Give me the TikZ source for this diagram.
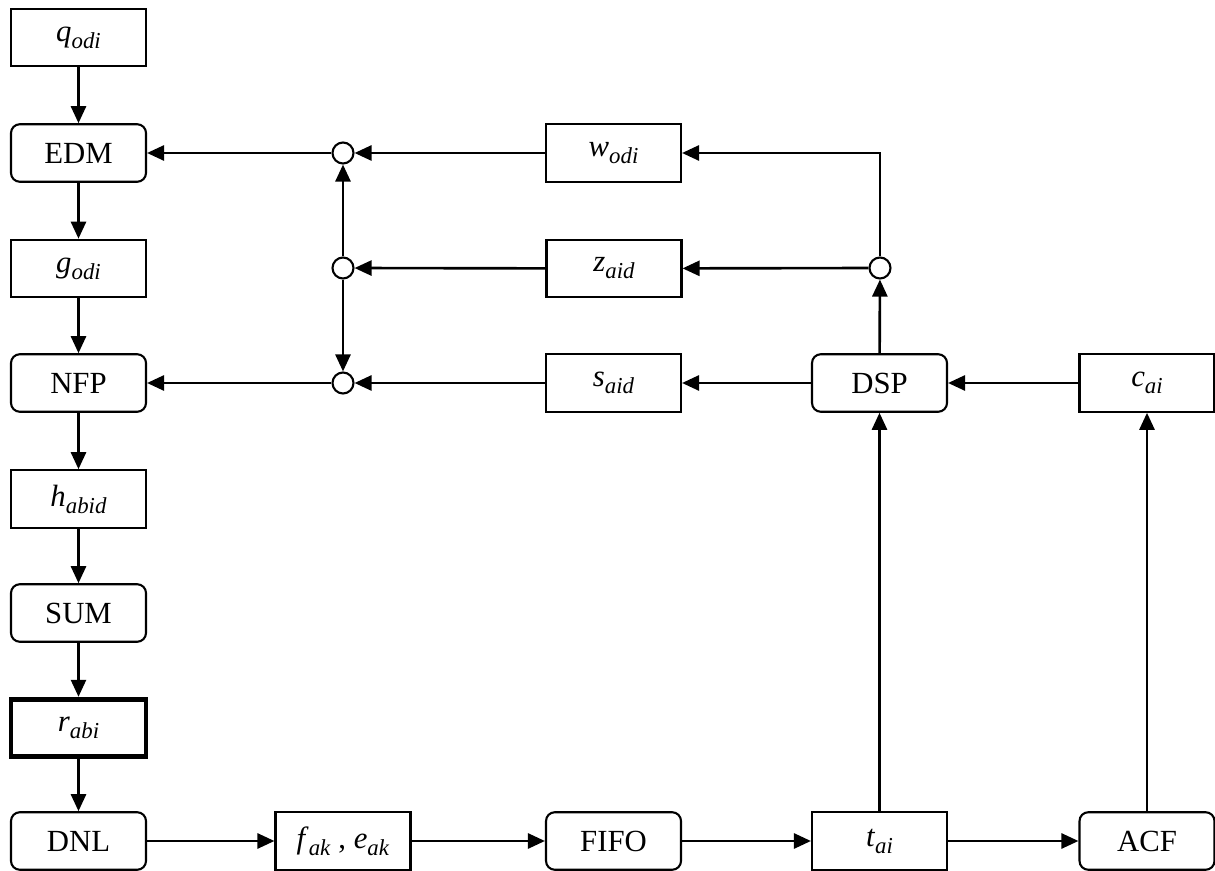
\documentclass[tikz,border=0pt]{standalone}
\usepackage{fontspec}
\setmainfont{Liberation Serif}
\usepackage{tikz}
\usetikzlibrary{arrows.meta,positioning,calc}
\newcommand{\vsub}[2]{\textit{#1}\raisebox{-0.5ex}{\fontsize{13}{14}\selectfont\textit{#2}}}
\tikzset{
  block/.style={rectangle,draw=black,line width=1.2pt,fill=white,minimum width=2.7cm,minimum height=1.15cm,inner sep=2pt,font=\fontsize{17.5}{20}\selectfont},
  proc/.style={block,rounded corners=5pt},
  keyblock/.style={block,line width=2.8pt},
  junc/.style={circle,draw=black,line width=1.2pt,fill=white,minimum size=0.42cm,inner sep=0pt},
  arr/.style={-{Triangle[length=0.34cm,width=0.3cm]},line width=1.5pt},
}
\begin{document}
\begin{tikzpicture}[x=0.02cm,y=-0.02cm]
\useasboundingbox (0,0) rectangle (1215,871);
% --- left column ---
\node[block] (q) at (78.5,37.5) {\vsub{q}{odi}};
\node[proc] (EDM) at (78.5,153) {EDM};
\node[block] (g) at (78.5,268.5) {\vsub{g}{odi}};
\node[proc] (NFP) at (78.5,383) {NFP};
\node[block] (h) at (78.5,499) {\vsub{h}{abid}};
\node[proc] (SUM) at (78.5,613) {SUM};
\node[keyblock] (r) at (78.5,728) {\vsub{r}{abi}};
\node[proc] (DNL) at (78.5,841) {DNL};

% --- junctions ---
\node[junc] (j1) at (343,153) {};
\node[junc] (j2) at (343,268) {};
\node[junc] (j3) at (343,383) {};
\node[junc] (j4) at (880,268) {};

% --- middle ---
\node[block] (w) at (613.5,153) {\vsub{w}{odi}};
\node[block] (z) at (614,268.5) {\vsub{z}{aid}};
\node[block] (s) at (613.5,383) {\vsub{s}{aid}};
\node[proc] (DSP) at (879.5,383) {DSP};
\node[block] (c) at (1147,383) {\vsub{c}{ai}};

% --- bottom row ---
\node[block] (fe) at (343,841) {\vsub{f}{ak} , \vsub{e}{ak}};
\node[proc] (FIFO) at (613.5,841) {FIFO};
\node[block] (t) at (879.5,841) {\vsub{t}{ai}};
\node[proc] (ACF) at (1147,841) {ACF};

% left chain
\draw[arr] (q) -- (EDM);
\draw[arr] (EDM) -- (g);
\draw[arr] (g) -- (NFP);
\draw[arr] (NFP) -- (h);
\draw[arr] (h) -- (SUM);
\draw[arr] (SUM) -- (r);
\draw[arr] (r) -- (DNL);

% bottom chain
\draw[arr] (DNL) -- (fe);
\draw[arr] (fe) -- (FIFO);
\draw[arr] (FIFO) -- (t);
\draw[arr] (t) -- (ACF);
\draw[arr] (t) -- (DSP);
\draw[arr] (ACF) -- (c);

% feedback
\draw[arr] (c) -- (DSP);
\draw[arr] (DSP) -- (s);
\draw[arr] (DSP) -- (j4);
\draw[arr] (j4) -- (z);
\draw[arr] (j4) -- (j4 |- w) -- (w);
\draw[arr] (w) -- (j1);
\draw[arr] (z) -- (j2);
\draw[arr] (s) -- (j3);
\draw[arr] (j2) -- (j1);
\draw[arr] (j2) -- (j3);
\draw[arr] (j1) -- (EDM);
\draw[arr] (j3) -- (NFP);
\end{tikzpicture}
\end{document}
